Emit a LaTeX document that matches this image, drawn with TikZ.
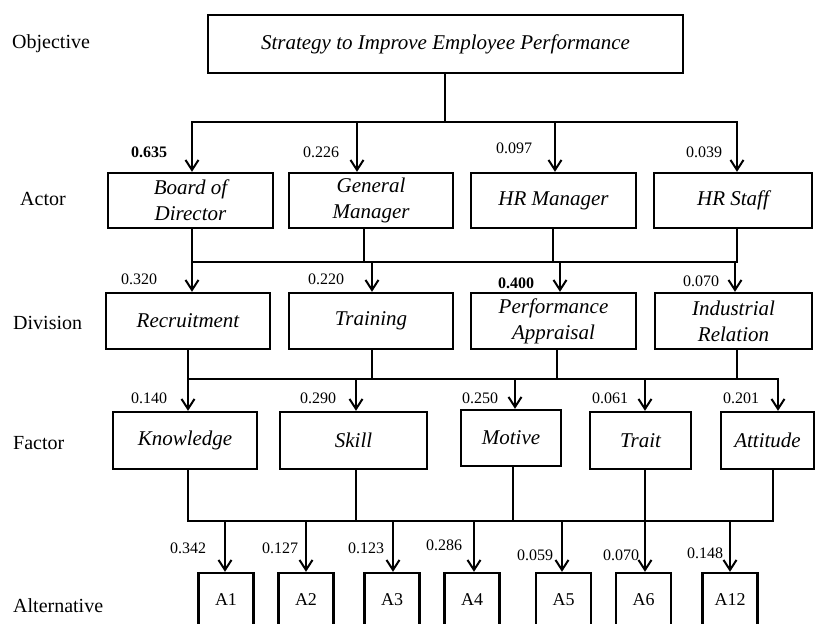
\documentclass[tikz,border=0pt]{standalone}
\usepackage{fontspec}
\setmainfont{Liberation Serif}
\usetikzlibrary{arrows.meta}

\begin{document}
\begin{tikzpicture}[x=1pt,y=-1pt,
    box/.style={draw, line width=2.4pt, align=center, inner sep=0pt, font=\fontsize{21}{26}\selectfont\itshape},
    alt/.style={draw, line width=2.4pt, inner sep=0pt, minimum width=55pt, minimum height=54pt, font=\fontsize{18}{18}\selectfont},
    lvl/.style={anchor=west, inner sep=0pt, font=\fontsize{20}{20}\selectfont},
    wt/.style={inner sep=0pt, font=\fontsize{16}{16}\selectfont},
    link/.style={line width=2.2pt, line cap=rect},
    arr/.style={line width=2pt, -{Straight Barb[length=10pt,width=13pt]}}]
    \useasboundingbox (0,0) rectangle (817,624);
    \clip (0,0) rectangle (817,624);
    \node[lvl] (lobj) at (12,44) {Objective};
    \node[lvl] (lact) at (20,199) {Actor};
    \node[lvl] (ldiv) at (13,323) {Division};
    \node[lvl] (lfac) at (13,443) {Factor};
    \node[lvl] (lalt) at (13,606) {Alternative};
    \node[box, minimum width=475pt, minimum height=58pt] (obj) at (445.5,44) {Strategy to Improve Employee Performance};
    \node[box, minimum width=165pt, minimum height=55pt] (bod) at (190.5,200.5) {Board of\\Director};
    \node[box, minimum width=164pt, minimum height=55pt] (gm) at (371,200.5) {General\\Manager};
    \node[box, minimum width=165pt, minimum height=55pt] (hrm) at (553.5,200.5) {HR Manager};
    \node[box, minimum width=158pt, minimum height=55pt] (hrs) at (733,200.5) {HR Staff};
    \node[box, minimum width=164pt, minimum height=56pt] (rec) at (188,321) {Recruitment};
    \node[box, minimum width=164pt, minimum height=56pt] (trn) at (371,321) {Training};
    \node[box, minimum width=165pt, minimum height=56pt] (pa) at (553.5,321) {Performance\\Appraisal};
    \node[box, minimum width=157pt, minimum height=56pt] (ir) at (733.5,321) {Industrial\\Relation};
    \node[box, minimum width=144pt, minimum height=57pt] (kno) at (185,440.5) {Knowledge};
    \node[box, minimum width=147pt, minimum height=57pt] (ski) at (353.5,440.5) {Skill};
    \node[box, minimum width=100pt, minimum height=56pt] (mot) at (511,438) {Motive};
    \node[box, minimum width=101pt, minimum height=57pt] (trt) at (640.5,440.5) {Trait};
    \node[box, minimum width=93pt, minimum height=57pt] (att) at (767.5,440.5) {Attitude};
    \node[alt] (a1) at (226,600) {A1};
    \node[alt] (a2) at (306,600) {A2};
    \node[alt] (a3) at (392,600) {A3};
    \node[alt] (a4) at (472,600) {A4};
    \node[alt] (a5) at (563.5,600) {A5};
    \node[alt] (a6) at (643.5,600) {A6};
    \node[alt] (a12) at (730,600) {A12};
    \coordinate (bar1) at (0,122);
    \coordinate (bar2) at (0,262);
    \coordinate (bar3) at (0,379);
    \coordinate (bar4) at (0,521);
    \draw[link] (obj.south -| 445,0) -- (bar1 -| 445,0);
    \draw[link] (bar1 -| 192,0) -- (bar1 -| 737,0);
    \foreach \n/\x in {bod/192,gm/357,hrm/555,hrs/737}
        \draw[arr] (bar1 -| \x,0) -- (\n.north -| \x,0);
    \foreach \n/\x in {bod/192,gm/364,hrm/553,hrs/737}
        \draw[link] (\n.south -| \x,0) -- (bar2 -| \x,0);
    \draw[link] (bar2 -| 192,0) -- (bar2 -| 737,0);
    \foreach \n/\x in {rec/192,trn/372,pa/560,ir/735}
        \draw[arr] (bar2 -| \x,0) -- (\n.north -| \x,0);
    \foreach \n/\x in {rec/188,trn/372,pa/557,ir/737}
        \draw[link] (\n.south -| \x,0) -- (bar3 -| \x,0);
    \draw[link] (bar3 -| 188,0) -- (bar3 -| 778,0);
    \foreach \n/\x in {kno/188,ski/356,mot/515,trt/645,att/778}
        \draw[arr] (bar3 -| \x,0) -- (\n.north -| \x,0);
    \foreach \n/\x in {kno/188,ski/356,mot/513,trt/645,att/773}
        \draw[link] (\n.south -| \x,0) -- (bar4 -| \x,0);
    \draw[link] (bar4 -| 188,0) -- (bar4 -| 773,0);
    \foreach \n/\x in {a1/225,a2/306,a3/393,a4/474,a5/562,a6/645,a12/730}
        \draw[arr] (bar4 -| \x,0) -- (\n.north -| \x,0);
    \node[wt] (w1) at (149,152) {\textbf{0.635}};
    \node[wt] (w2) at (321,152) {0.226};
    \node[wt] (w3) at (514,148) {0.097};
    \node[wt] (w4) at (704,152) {0.039};
    \node[wt] (w5) at (139,279) {0.320};
    \node[wt] (w6) at (326,279) {0.220};
    \node[wt] (w7) at (516,283) {\textbf{0.400}};
    \node[wt] (w8) at (701,281) {0.070};
    \node[wt] (w9) at (149,398) {0.140};
    \node[wt] (w10) at (318,398) {0.290};
    \node[wt] (w11) at (480,398) {0.250};
    \node[wt] (w12) at (610,398) {0.061};
    \node[wt] (w13) at (741,398) {0.201};
    \node[wt] (w14) at (188,548) {0.342};
    \node[wt] (w15) at (280,548) {0.127};
    \node[wt] (w16) at (366,548) {0.123};
    \node[wt] (w17) at (444,545) {0.286};
    \node[wt] (w18) at (535,555) {0.059};
    \node[wt] (w19) at (621,555) {0.070};
    \node[wt] (w20) at (705,553) {0.148};
\end{tikzpicture}
\end{document}
